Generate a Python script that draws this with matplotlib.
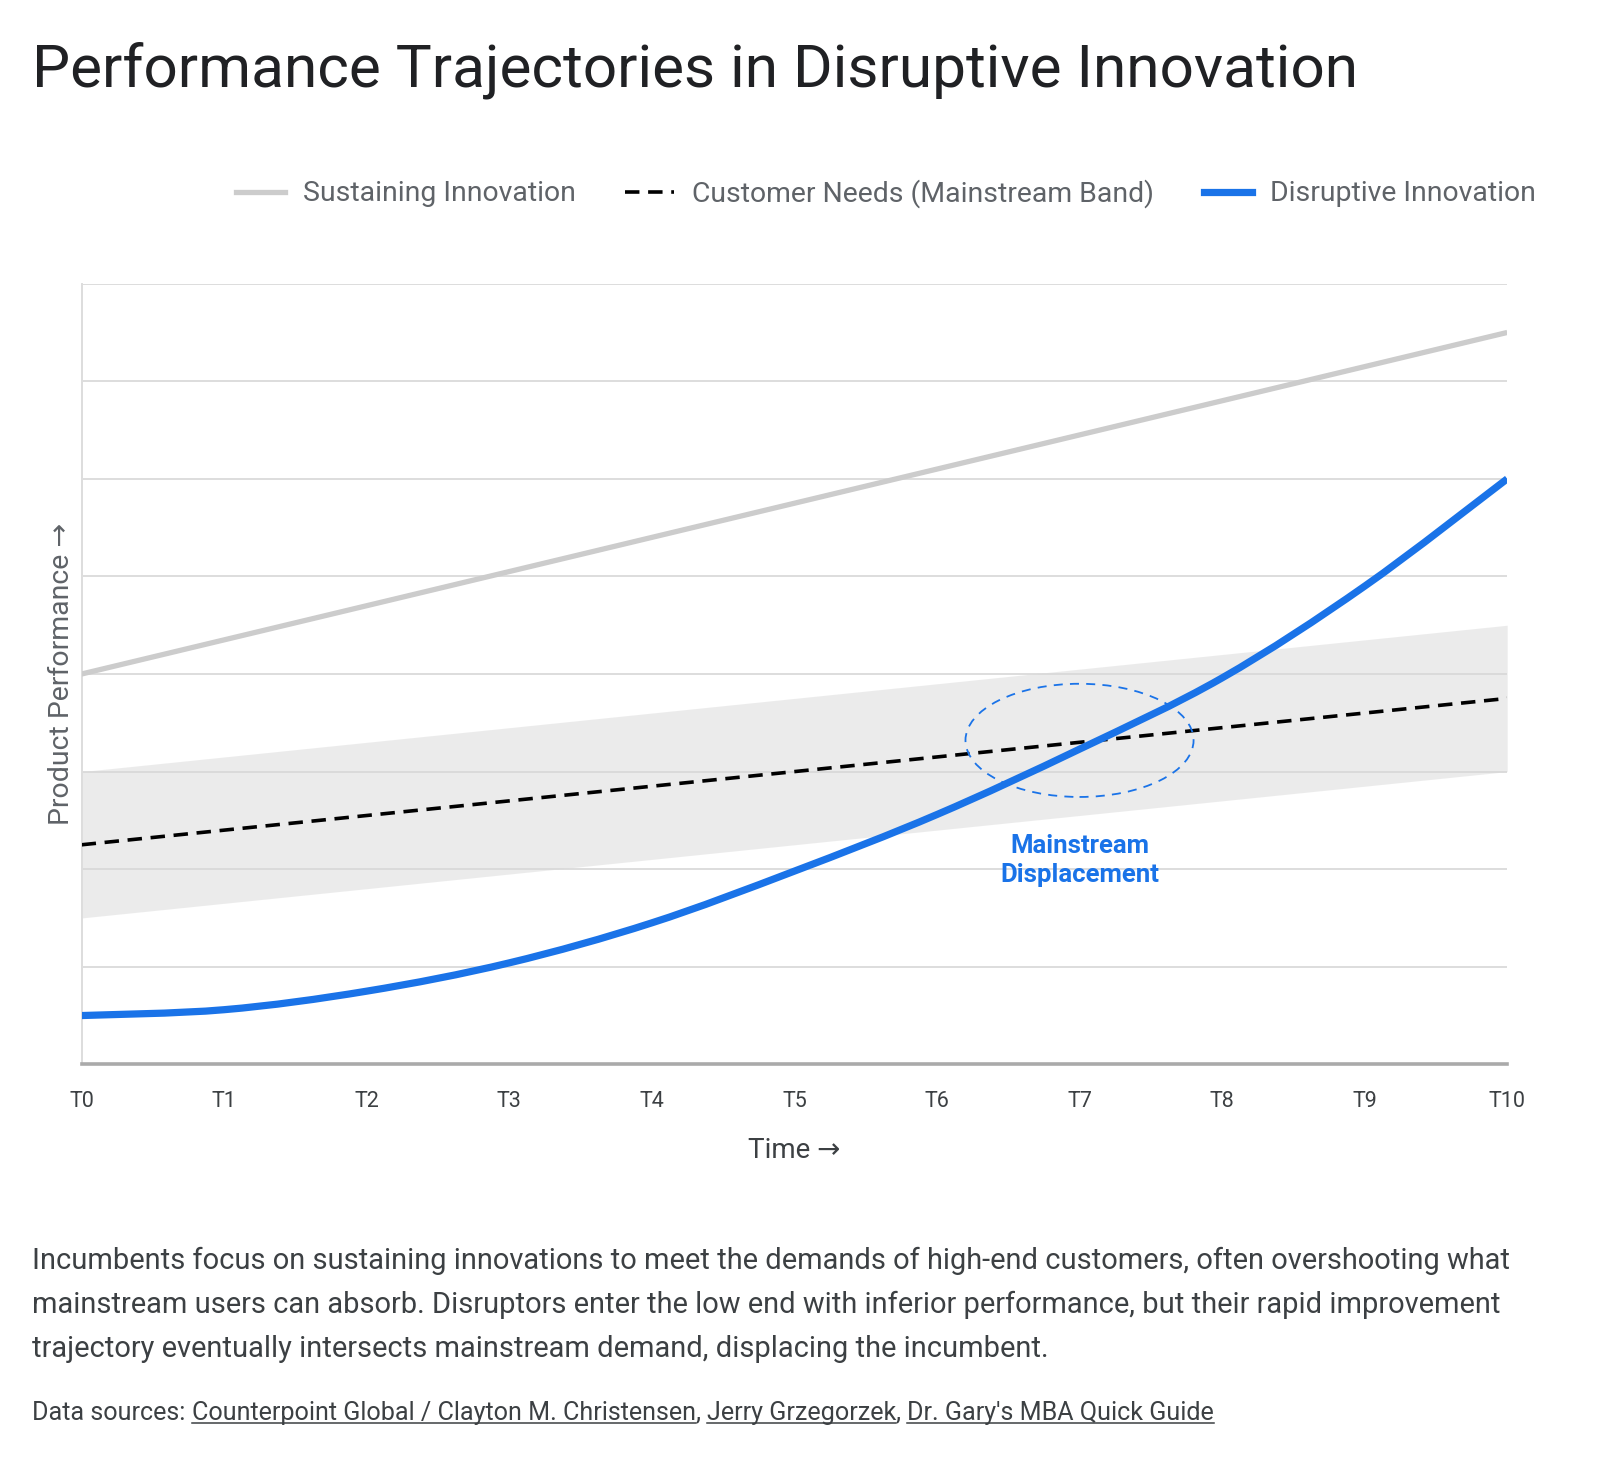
import matplotlib
matplotlib.use("Agg")
import matplotlib.pyplot as plt
from matplotlib.patches import Ellipse, PathPatch
from matplotlib.path import Path
from matplotlib.lines import Line2D

plt.rcParams["font.family"] = ["Roboto", "DejaVu Sans"]

# Dados
tempos = ["T0", "T1", "T2", "T3", "T4", "T5", "T6", "T7", "T8", "T9", "T10"]
sustentacao = [40, 43.5, 47, 50.5, 54, 57.5, 61, 64.5, 68, 71.5, 75]
necessidades = [22.5, 24, 25.5, 27, 28.5, 30, 31.5, 33, 34.5, 36, 37.5]
faixa_inferior = [15, 16.5, 18, 19.5, 21, 22.5, 24, 25.5, 27, 28.5, 30]
faixa_superior = [30, 31.5, 33, 34.5, 36, 37.5, 39, 40.5, 42, 43.5, 45]
disruptiva = [5, 5.6, 7.5, 10.4, 14.5, 19.8, 25.6, 32.3, 39.6, 49, 60]

AZUL = "#1a73e8"
CINZA_TEXTO = "#5f6368"
TEXTO = "#3c4043"


# Curva suave (Catmull-Rom em Bezier) passando pelos pontos
def caminho_suave(xs, ys):
    pts = list(zip(xs, ys))
    verts = [pts[0]]
    codes = [Path.MOVETO]
    for i in range(len(pts) - 1):
        p0 = pts[max(i - 1, 0)]
        p1 = pts[i]
        p2 = pts[i + 1]
        p3 = pts[min(i + 2, len(pts) - 1)]
        c1 = (p1[0] + (p2[0] - p0[0]) / 6, p1[1] + (p2[1] - p0[1]) / 6)
        c2 = (p2[0] - (p3[0] - p1[0]) / 6, p2[1] - (p3[1] - p1[1]) / 6)
        verts += [c1, c2, p2]
        codes += [Path.CURVE4] * 3
    return Path(verts, codes)


fig = plt.figure(figsize=(16, 14.6), dpi=100)
ax = fig.add_axes([0.051, 0.271, 0.891, 0.5347])

x = list(range(len(tempos)))

# Faixa de necessidades
ax.fill_between(x, faixa_inferior, faixa_superior, color="#d9d9d9", alpha=0.5,
                linewidth=0, zorder=2)

ax.plot(x, sustentacao, color="#cccccc", linewidth=3.8, solid_capstyle="butt", zorder=3)
ax.plot(x, necessidades, color="black", linewidth=2.6, dashes=(4, 2.4), zorder=4)
ax.add_patch(PathPatch(caminho_suave(x, disruptiva), facecolor="none", edgecolor=AZUL,
                       linewidth=5.2, capstyle="butt", zorder=5))

# Destaque do deslocamento
elipse = Ellipse((7, 33.2), 1.6, 11.6, fill=False, edgecolor=AZUL,
                 linewidth=1.3, linestyle=(0, (5, 4)), zorder=6)
ax.add_patch(elipse)
ax.text(7, 20.9, "Mainstream\nDisplacement", color=AZUL, fontsize=18.5,
        fontweight="bold", ha="center", va="center", linespacing=1.25, zorder=7)

ax.set_xlim(0, 10)
ax.set_ylim(0, 80)
ax.set_xticks(x)
ax.set_xticklabels(tempos, fontsize=15.5, color=TEXTO)
ax.set_yticks(range(0, 81, 10))
ax.set_yticklabels([])
ax.tick_params(axis="both", length=0)
ax.tick_params(axis="x", pad=19)
ax.grid(axis="y", color="#dddddd", linewidth=1.4, zorder=0)
ax.set_axisbelow(True)

for lado in ["top", "right"]:
    ax.spines[lado].set_visible(False)
ax.spines["left"].set_color("#dddddd")
ax.spines["left"].set_linewidth(1.4)
ax.spines["bottom"].set_color("#aaaaaa")
ax.spines["bottom"].set_linewidth(2.6)

ax.set_xlabel("Time →", fontsize=20, color=TEXTO, labelpad=18)
ax.set_ylabel("Product Performance →", fontsize=20.5, color=CINZA_TEXTO, labelpad=1)

# Titulo
fig.text(0.02, 0.952, "Performance Trajectories in Disruptive Innovation",
         fontsize=43.5, color="#202124", ha="left", va="center")

# Legenda
handles = [Line2D([], [], color="#cccccc", linewidth=3.8),
           Line2D([], [], color="black", linewidth=2.6, dashes=(4, 2.4)),
           Line2D([], [], color=AZUL, linewidth=5.2)]
rotulos = ["Sustaining Innovation", "Customer Needs (Mainstream Band)", "Disruptive Innovation"]
fig.legend(handles, rotulos, loc="center right", bbox_to_anchor=(0.976, 0.8675), ncol=3,
           frameon=False, fontsize=20.4, labelcolor=CINZA_TEXTO,
           handlelength=1.7, handletextpad=0.65, columnspacing=1.75)

# Texto explicativo
paragrafo = ("Incumbents focus on sustaining innovations to meet the demands of high-end customers, often overshooting what\n"
             "mainstream users can absorb. Disruptors enter the low end with inferior performance, but their rapid improvement\n"
             "trajectory eventually intersects mainstream demand, displacing the incumbent.")
fig.text(0.02, 0.1065, paragrafo, fontsize=20.9, color=TEXTO, ha="left",
         va="center", linespacing=1.72)

# Fontes com sublinhado
partes = [("Data sources: ", False), ("Counterpoint Global / Clayton M. Christensen", True),
          (", ", False), ("Jerry Grzegorzek", True), (", ", False),
          ("Dr. Gary's MBA Quick Guide", True)]
fig.canvas.draw()
renderer = fig.canvas.get_renderer()
xpos = 0.02
for texto, sublinhar in partes:
    t = fig.text(xpos, 0.0325, texto, fontsize=18.1, color=TEXTO, ha="left", va="center")
    bb = t.get_window_extent(renderer).transformed(fig.transFigure.inverted())
    if sublinhar:
        fig.add_artist(Line2D([bb.x0, bb.x1], [bb.y0 + 0.0008, bb.y0 + 0.0008],
                              transform=fig.transFigure, color=TEXTO, linewidth=1.1))
    xpos = bb.x1

fig.savefig("out.png", dpi=100)
